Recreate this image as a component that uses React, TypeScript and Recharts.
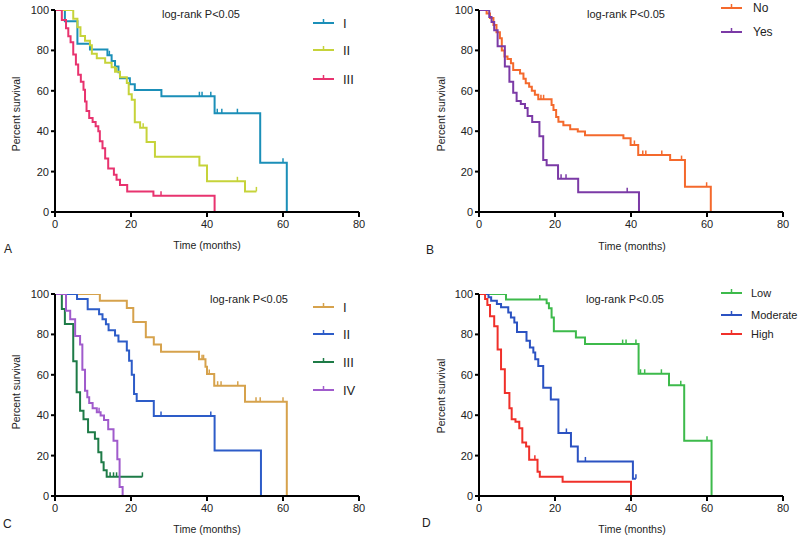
import React from "react";
import { LineChart, Line, XAxis, YAxis } from "recharts";

const FONT = '"Liberation Sans", Arial, sans-serif';

const xTicks = [0, 20, 40, 60, 80];
const yTicks = [0, 20, 40, 60, 80, 100];
const pLabel = "log-rank P<0.05";
const xLabel = "Time (months)";
const yLabel = "Percent survival";

// ---------- Panel A ----------
const aITimes = [0, 2.6, 5.9, 9.2, 13.8, 14.9, 15.8, 16.7, 17.1, 19.7, 21, 28, 42, 54, 61];
const aISurv = [100, 94.4, 83.3, 80.5, 77.6, 74.8, 72, 69.2, 66.2, 63.3, 60.4, 57.3, 48.9, 24.4, 0];
const aICens = [14.3, 38, 38.7, 41, 42.7, 43.9, 48, 60];

const aIITimes = [0, 4.8, 5.9, 6.7, 7.9, 9.2, 9.7, 11, 13.2, 14.9, 15.8, 17.1, 18.9, 19.4, 20.2, 21, 22.4, 24.1, 26.3, 38, 40, 50];
const aIISurv = [100, 95.7, 91.4, 87.1, 84.8, 82.6, 78.3, 76.1, 73.9, 71.7, 69.4, 66.7, 63.9, 58.3, 55.6, 44.4, 41.7, 34.7, 27.4, 23, 15.2, 10.2];
const aIICens = [16.2, 23.2, 48, 53];

const aIIITimes = [0, 1.8, 2.9, 3.5, 4.1, 4.8, 5.5, 6.1, 6.8, 7.5, 7.9, 8.3, 9, 9.9, 10.7, 11.4, 11.8, 12.5, 13.2, 14, 15.5, 16.2, 17.1, 19, 25.9, 42];
const aIIISurv = [100, 95, 91, 87, 84, 78, 73, 68, 64.5, 60.5, 54.7, 50, 46.5, 44.5, 42.5, 40, 35, 31.5, 26.5, 21.5, 18.5, 16, 13.4, 10.1, 8, 0];
const aIIICens = [27.9];

// ---------- Panel B ----------
const bNoTimes = [0, 2, 2.9, 3.8, 4.6, 5.5, 6, 6.7, 7.5, 8.4, 9, 10.8, 11.7, 12.3, 13.2, 13.9, 14.7, 15.6, 19.1, 19.6, 20.3, 20.9, 22.2, 24, 26, 27.9, 38, 39.9, 41.9, 50.3, 54.2, 61];
const bNoSurv = [100, 98.3, 96, 92.6, 89, 86, 80, 77, 75.7, 73.6, 70.3, 68.6, 66, 63.7, 62, 60, 58, 55.8, 53, 50.5, 47, 44.7, 43, 41, 39.8, 38, 36.5, 33.2, 28.2, 25.7, 12.5, 0];
const bNoCens = [16.3, 17, 40.9, 43.1, 43.9, 48.1, 53.3, 59.9];

const bYesTimes = [0, 2.7, 3.3, 4, 4.9, 6.8, 8, 9, 9.9, 11, 12.1, 12.8, 14, 15.9, 16.9, 17.8, 20.8, 26.1, 42.1];
const bYesSurv = [100, 96.5, 94, 90, 82, 72, 64.5, 59, 55, 53.5, 51.5, 47.5, 44.5, 37.5, 25.8, 23.2, 16.5, 9.8, 0];
const bYesCens = [21.6, 22.9, 39];

// ---------- Panel C ----------
const cITimes = [0, 11.8, 18.9, 20.6, 23.9, 26, 27.9, 37.9, 39.6, 40, 41.9, 50, 61];
const cISurv = [100, 96.6, 93.1, 86.2, 78.6, 75, 71.4, 67.7, 64, 60.4, 54.6, 46.6, 0];
const cICens = [38.7, 39.1, 40.6, 42.8, 43.7, 48.1, 52.9, 54, 60];

const cIITimes = [0, 5.8, 8.6, 11.6, 12.5, 13.4, 14.1, 15.8, 16.7, 18.9, 19.5, 20.2, 20.8, 21.5, 26, 42, 54.2];
const cIISurv = [100, 97.5, 92.5, 90, 87.5, 85, 82, 79.5, 76.5, 72, 67, 60, 50.5, 47, 39.6, 22.5, 0];
const cIICens = [27.9, 41];

const cIIITimes = [0, 1.8, 2.6, 4.8, 5.7, 6.6, 7.5, 8.7, 10.5, 11.4, 12.2, 12.8, 13.6];
const cIIISurv = [100, 92.6, 85.2, 66.7, 51.3, 42.2, 38, 31.6, 28.4, 21.6, 16.7, 12.7, 9.5];
const cIIICens = [14.5, 15.4, 16.2, 23];

const cIVTimes = [0, 2.9, 4, 5.3, 6.6, 7.2, 7.9, 8.5, 9, 9.9, 11, 12, 12.9, 14, 15.4, 16.4, 17, 17.8];
const cIVSurv = [100, 91.7, 87.5, 79.2, 75, 62.5, 52.1, 48.9, 46, 43.4, 41.4, 39.9, 37.6, 33, 27.3, 18.2, 4.5, 0];
const cIVCens = [11.6];

// ---------- Panel D ----------
const dLowTimes = [0, 7.1, 17.8, 18.4, 19.1, 19.7, 25.5, 27.9, 42, 50, 54, 61.2];
const dLowSurv = [100, 97.3, 95.4, 92.9, 88.4, 81.6, 78.5, 75.2, 60.5, 54.8, 27.4, 0];
const dLowCens = [16, 37.8, 38.7, 41.3, 42.5, 43.6, 48, 53.1, 60];

const dModTimes = [0, 2.5, 3.2, 4.7, 5.8, 7.7, 8.4, 9.3, 10, 12.5, 13.4, 14.3, 14.8, 15.6, 16.9, 18.9, 20.9, 24.2, 26, 40.5];
const dModSurv = [100, 98.4, 96.7, 95, 93.4, 90.9, 88.4, 85.9, 81.2, 76.8, 73.5, 71, 67.7, 64.3, 53.6, 47.8, 31.2, 24.5, 17.1, 8.6];
const dModCens = [23, 28, 41.3];

const dHighTimes = [0, 1.6, 2.2, 2.9, 4, 4.9, 5.8, 6.8, 8, 8.6, 9.6, 10.6, 11.4, 12.4, 13.2, 15.4, 16, 22, 40];
const dHighSurv = [100, 97.5, 94.5, 89, 84, 72.5, 62.7, 51, 43.5, 38, 36.7, 33.5, 26.5, 24.5, 18, 12, 9.5, 7, 0];
const dHighCens = [14.7];

type Pt = { t: number; s: number; c: boolean };

function curve(times: number[], surv: number[], cens: number[]): Pt[] {
  const pts: Pt[] = times.map((t, i) => ({ t, s: surv[i], c: false }));
  cens.forEach((ct) => {
    let s = surv[0];
    for (let i = 0; i < times.length; i++) if (times[i] <= ct) s = surv[i];
    pts.push({ t: ct, s, c: true });
  });
  pts.sort((a, b) => a.t - b.t);
  return pts;
}

type Series = { name: string; color: string; data: Pt[] };

function censorDot(color: string) {
  return (p: any) => {
    const { cx, cy, payload, index } = p;
    if (!payload || !payload.c || cx == null || cy == null) return <g key={`e${index}`} />;
    return (
      <path key={`c${index}`} d={`M${cx},${cy}V${cy - 4.5}`} stroke={color} strokeWidth={1.5} fill="none" />
    );
  };
}

type PanelProps = {
  left: number;
  top: number;
  h: number;
  plotLeft: number;
  plotTop: number;
  series: Series[];
  letter: string;
  pX: number;
  pY: number;
  tX: number;
  tY: number;
  yX: number;
  yY: number;
  lX: number;
  lY: number;
  legX1: number;
  legX2: number;
  legTextX: number;
  legRows: number[];
  legFont: number;
};

const txt: React.CSSProperties = {
  position: "absolute",
  fontFamily: FONT,
  color: "#222",
  whiteSpace: "nowrap",
  lineHeight: 1,
};

function Panel(p: PanelProps) {
  const plotW = 304;
  const plotH = 202;
  const margin = {
    top: p.plotTop,
    left: p.plotLeft - 30,
    right: 400 - p.plotLeft - plotW,
    bottom: p.h - p.plotTop - plotH - 30,
  };
  return (
    <div style={{ position: "absolute", left: p.left, top: p.top, width: 400, height: p.h }}>
      <LineChart width={400} height={p.h} margin={margin} style={{ position: "absolute", left: 0, top: 0 }}>
        <XAxis
          type="number"
          dataKey="t"
          domain={[0, 80]}
          ticks={xTicks}
          interval={0}
          height={30}
          allowDataOverflow
          axisLine={{ stroke: "#000", strokeWidth: 2 }}
          tickLine={{ stroke: "#000", strokeWidth: 2 }}
          tickSize={5}
          tickMargin={3}
          tick={{ fill: "#222", fontSize: 11, fontFamily: FONT }}
        />
        <YAxis
          type="number"
          domain={[0, 100]}
          ticks={yTicks}
          interval={0}
          width={30}
          allowDataOverflow
          axisLine={{ stroke: "#000", strokeWidth: 2 }}
          tickLine={{ stroke: "#000", strokeWidth: 2 }}
          tickSize={4}
          tickMargin={2}
          tick={{ fill: "#222", fontSize: 11, fontFamily: FONT }}
        />
        {p.series.map((s) => (
          <Line
            key={s.name}
            name={s.name}
            data={s.data}
            dataKey="s"
            type="stepAfter"
            stroke={s.color}
            strokeWidth={2}
            dot={censorDot(s.color)}
            activeDot={false}
            isAnimationActive={false}
          />
        ))}
      </LineChart>
      <div style={{ ...txt, left: p.pX, top: p.pY, fontSize: 11, transform: "translate(-50%,-50%)" }}>{pLabel}</div>
      <div style={{ ...txt, left: p.tX, top: p.tY, fontSize: 10.5, transform: "translate(-50%,-50%)" }}>{xLabel}</div>
      <div
        style={{ ...txt, left: p.yX, top: p.yY, fontSize: 10.5, transform: "translate(-50%,-50%) rotate(-90deg)" }}
      >
        {yLabel}
      </div>
      <div style={{ ...txt, left: p.lX, top: p.lY, fontSize: 12, transform: "translateY(-50%)" }}>{p.letter}</div>
      {p.series.map((s, i) => (
        <React.Fragment key={`leg${s.name}`}>
          <svg
            style={{ position: "absolute", left: p.legX1, top: p.legRows[i] - 6, overflow: "visible" }}
            width={p.legX2 - p.legX1}
            height={8}
          >
            <line x1={0} x2={p.legX2 - p.legX1} y1={6} y2={6} stroke={s.color} strokeWidth={2} />
            <line
              x1={(p.legX2 - p.legX1) / 2}
              x2={(p.legX2 - p.legX1) / 2}
              y1={6}
              y2={2}
              stroke={s.color}
              strokeWidth={1.5}
            />
          </svg>
          <div style={{ ...txt, left: p.legTextX, top: p.legRows[i], fontSize: p.legFont, transform: "translateY(-50%)" }}>
            {s.name}
          </div>
        </React.Fragment>
      ))}
    </div>
  );
}

export default function App() {
  const seriesA: Series[] = [
    { name: "I", color: "#1b8fb8", data: curve(aITimes, aISurv, aICens) },
    { name: "II", color: "#c6d33a", data: curve(aIITimes, aIISurv, aIICens) },
    { name: "III", color: "#e8336f", data: curve(aIIITimes, aIIISurv, aIIICens) },
  ];
  const seriesB: Series[] = [
    { name: "No", color: "#f4692c", data: curve(bNoTimes, bNoSurv, bNoCens) },
    { name: "Yes", color: "#7b3aa6", data: curve(bYesTimes, bYesSurv, bYesCens) },
  ];
  const seriesC: Series[] = [
    { name: "I", color: "#d6a24c", data: curve(cITimes, cISurv, cICens) },
    { name: "II", color: "#2d5cc8", data: curve(cIITimes, cIISurv, cIICens) },
    { name: "III", color: "#1e7b47", data: curve(cIIITimes, cIIISurv, cIIICens) },
    { name: "IV", color: "#a05bcc", data: curve(cIVTimes, cIVSurv, cIVCens) },
  ];
  const seriesD: Series[] = [
    { name: "Low", color: "#3dba4b", data: curve(dLowTimes, dLowSurv, dLowCens) },
    { name: "Moderate", color: "#2b52c2", data: curve(dModTimes, dModSurv, dModCens) },
    { name: "High", color: "#f0302a", data: curve(dHighTimes, dHighSurv, dHighCens) },
  ];

  return (
    <div style={{ position: "absolute", left: 0, top: 0, width: 800, height: 536, background: "#fff", overflow: "hidden" }}>
      <Panel
        left={0}
        top={0}
        h={268}
        plotLeft={55}
        plotTop={10}
        series={seriesA}
        letter="A"
        pX={201}
        pY={14}
        tX={207}
        tY={245}
        yX={16}
        yY={114}
        lX={4}
        lY={249}
        legX1={313}
        legX2={334}
        legTextX={343}
        legRows={[23, 50, 79]}
        legFont={13}
      />
      <Panel
        left={400}
        top={0}
        h={268}
        plotLeft={79}
        plotTop={10}
        series={seriesB}
        letter="B"
        pX={226}
        pY={14}
        tX={232}
        tY={246}
        yX={41}
        yY={114}
        lX={26}
        lY={250}
        legX1={321}
        legX2={342}
        legTextX={353}
        legRows={[8, 32]}
        legFont={12}
      />
      <Panel
        left={0}
        top={266}
        h={270}
        plotLeft={55}
        plotTop={28}
        series={seriesC}
        letter="C"
        pX={249}
        pY={33}
        tX={207}
        tY={263}
        yX={16}
        yY={126}
        lX={3}
        lY={258}
        legX1={313}
        legX2={334}
        legTextX={343}
        legRows={[41, 68, 96, 124]}
        legFont={13}
      />
      <Panel
        left={400}
        top={266}
        h={270}
        plotLeft={79}
        plotTop={28}
        series={seriesD}
        letter="D"
        pX={225}
        pY={33}
        tX={232}
        tY={263}
        yX={41}
        yY={130}
        lX={22}
        lY={257}
        legX1={321}
        legX2={342}
        legTextX={351}
        legRows={[27, 49, 68]}
        legFont={11}
      />
    </div>
  );
}
